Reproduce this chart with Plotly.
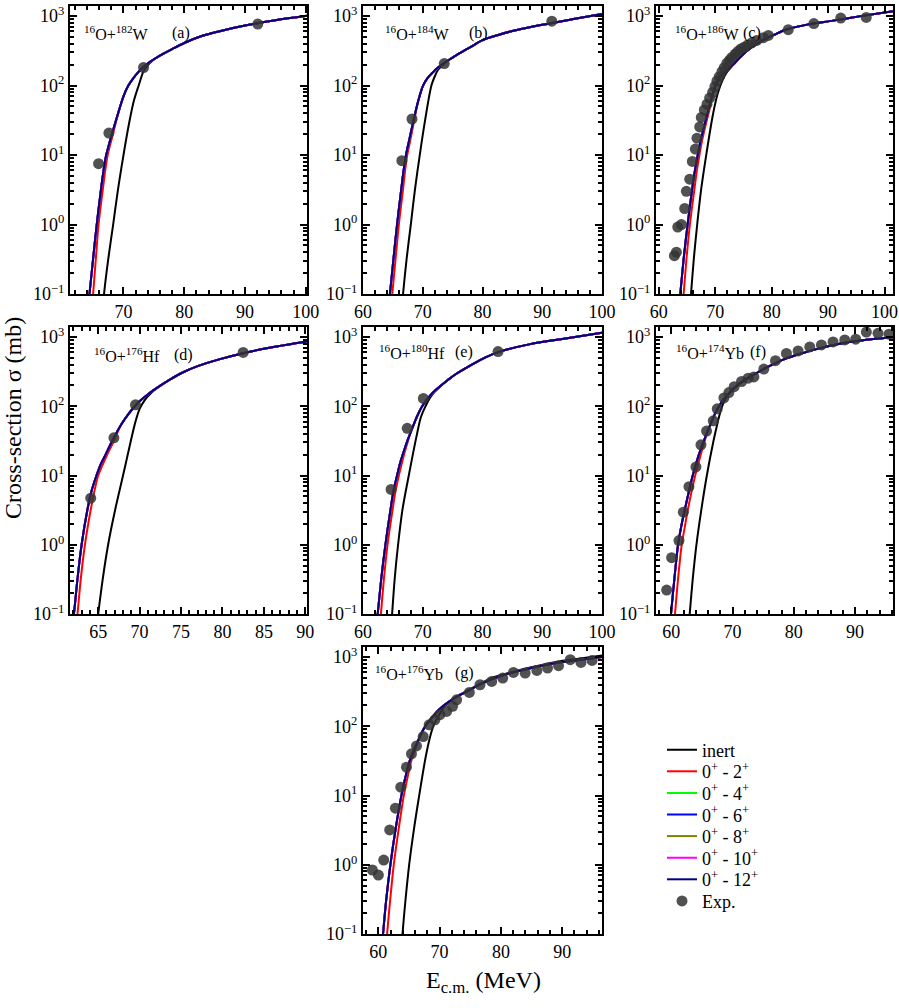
import plotly.graph_objects as go

W, H = 899, 1008

# ---- panel (a) 16O+182W ----
a_cc_e = [64.0, 64.4, 65.0, 65.6, 66.3, 66.7, 67.1, 67.6, 68.1, 69.3, 70.0, 70.8, 71.6, 72.4, 73.3, 74.2,
          75.2, 76.5, 78.0, 80.0, 83.0, 86.0, 90.0, 95.0, 100.3]
a_cc_s = [0.05, 0.1, 0.32, 1.0, 3.2, 5.8, 9.5, 14, 20, 45, 70, 100, 127, 155, 185, 215,
          245, 285, 335, 410, 520, 610, 730, 870, 1010]
a_2p_e = [64.7, 65.0, 65.45, 65.9, 66.6, 67.0, 67.4, 68.2, 69.3]
a_2p_s = [0.05, 0.1, 0.32, 1.0, 3.2, 6, 10, 19, 45]
a_in_e = [66.5, 66.8, 67.5, 68.3, 69.1, 70.0, 70.9, 71.7, 72.5, 73.3, 74.2, 75.2]
a_in_s = [0.05, 0.1, 0.32, 1.0, 3.2, 10, 28, 60, 100, 160, 205, 243]
a_exp_e = [65.9, 67.6, 73.3, 92.1]
a_exp_s = [7.5, 20.7, 182, 767]

# ---- panel (b) 16O+184W ----
b_cc_e = [64.1, 64.5, 65.1, 65.7, 66.4, 66.8, 67.2, 67.7, 68.2, 69.0, 69.5, 70.05, 70.8, 71.7, 72.5, 73.4,
          74.4, 75.5, 77.0, 78.5, 80.0, 82.5, 85.0, 90.0, 95.0, 100.0]
b_cc_s = [0.05, 0.1, 0.32, 1.0, 3.2, 6, 10, 16, 25, 50, 72, 100, 128, 155, 180, 205,
          235, 270, 320, 380, 450, 530, 610, 750, 900, 1070]
b_2p_e = [64.6, 64.9, 65.45, 66.0, 66.7, 67.05, 67.4, 67.9, 68.3, 69.0]
b_2p_s = [0.05, 0.1, 0.32, 1.0, 3.2, 6, 10, 16, 24, 48]
b_in_e = [66.4, 66.7, 67.3, 68.0, 68.7, 69.5, 70.4, 71.45, 72.0, 72.6, 73.4, 74.4]
b_in_s = [0.05, 0.1, 0.32, 1.0, 3.2, 10, 32, 100, 135, 170, 200, 233]
b_exp_e = [66.5, 68.2, 73.6, 91.6]
b_exp_s = [8.3, 33, 207, 845]

# ---- panel (c) 16O+186W ----
c_cc_e = [63.4, 63.8, 64.4, 65.1, 65.9, 66.4, 66.9, 67.4, 68.0, 69.0, 69.5, 70.0, 70.6, 71.3, 72.2, 73.2,
          74.3, 75.5, 77.0, 78.5, 80.5, 82.6, 86.5, 90.9, 95.5, 101.5]
c_cc_s = [0.05, 0.1, 0.32, 1.0, 3.2, 6, 10, 16, 25, 52, 72, 97, 122, 145, 172, 202,
          250, 310, 380, 450, 540, 640, 760, 860, 990, 1170]
c_2p_e = [64.1, 64.4, 64.9, 65.5, 66.3, 66.75, 67.2, 67.65, 68.2, 69.1]
c_2p_s = [0.05, 0.1, 0.32, 1.0, 3.2, 6, 10, 16, 25, 50]
c_in_e = [65.4, 65.7, 66.2, 66.8, 67.5, 68.4, 69.5, 70.3, 70.9, 71.6, 72.3, 73.2]
c_in_s = [0.05, 0.1, 0.32, 1.0, 3.2, 10, 35, 70, 100, 135, 165, 198]
c_exp_e = [62.76, 63.12, 63.35, 64.0, 64.59, 64.88, 65.47, 65.94, 66.47, 66.76, 67.24, 67.53, 68.06,
           68.53, 69.0, 69.53, 69.94, 70.29, 70.71, 71.18, 71.59, 72.06, 72.53, 72.94, 73.53, 74.0,
           74.53, 75.12, 75.76, 76.47, 77.35, 78.53, 79.41, 82.94, 87.47, 92.24, 96.76]
c_exp_s = [0.356, 0.40, 0.92, 1.0, 1.7, 3.0, 4.5, 8.1, 12.2, 17.5, 25.4, 34.8, 44.5,
           54, 66, 80, 97, 116, 134, 158, 181, 210, 232, 254, 284, 308,
           337, 356, 385, 412, 446, 488, 527, 638, 781, 935, 956]

# ---- panel (d) 16O+176Hf ----
d_cc_e = [61.7, 62.07, 62.5, 63.0, 63.7, 64.2, 64.8, 65.3, 65.8, 66.6, 67.8, 68.6, 69.3, 70.0, 70.8, 71.6,
          72.4, 73.6, 75.0, 77.0, 79.7, 82.9, 86.0, 90.2]
d_cc_s = [0.05, 0.1, 0.32, 1.0, 3.2, 6, 10, 14.5, 19, 30, 55, 76, 96, 118, 142, 168,
          195, 240, 300, 380, 480, 600, 710, 860]
d_2p_e = [62.2, 62.5, 62.9, 63.4, 64.1, 64.55, 65.0, 65.5, 66.0, 66.8]
d_2p_s = [0.05, 0.1, 0.32, 1.0, 3.2, 6, 10, 14, 19, 30]
d_in_e = [64.7, 65.0, 65.55, 66.2, 67.05, 68.0, 68.95, 69.5, 70.0, 70.6, 71.3, 72.4]
d_in_s = [0.05, 0.1, 0.32, 1.0, 3.2, 10, 32, 60, 92, 122, 152, 193]
d_exp_e = [64.1, 66.9, 69.5, 82.5]
d_exp_s = [4.7, 35, 105, 600]

# ---- panel (e) 16O+180Hf ----
e_cc_e = [62.1, 62.46, 63.05, 63.75, 64.6, 65.1, 65.7, 66.2, 66.8, 67.5, 68.2, 69.0, 69.9, 70.6, 71.3, 72.1,
          73.0, 74.2, 75.5, 78.0, 80.5, 83.05, 88.0, 93.1, 100.0]
e_cc_s = [0.05, 0.1, 0.32, 1.0, 3.2, 6, 10, 15, 22, 33, 47, 70, 100, 122, 145, 170,
          198, 240, 290, 390, 510, 620, 790, 930, 1150]
e_2p_e = [62.7, 63.0, 63.5, 64.1, 64.95, 65.45, 66.0, 66.5, 67.0, 67.6]
e_2p_s = [0.05, 0.1, 0.32, 1.0, 3.2, 6, 10, 15, 22, 33]
e_in_e = [64.6, 64.87, 65.3, 65.87, 66.6, 67.66, 68.9, 69.7, 70.46, 71.1, 71.8, 72.6, 73.4]
e_in_s = [0.05, 0.1, 0.32, 1.0, 3.2, 10, 35, 70, 100, 128, 155, 180, 210]
e_exp_e = [64.7, 67.4, 70.1, 82.6]
e_exp_s = [6.3, 48, 130, 617]

# ---- panel (f) 16O+174Yb ----
f_cc_e = [59.7, 59.95, 60.5, 61.1, 61.6, 62.2, 63.5, 64.5, 65.5, 66.5, 67.1, 67.7, 68.3, 69.0, 70.3, 72.0,
          74.0, 76.0, 78.5, 81.0, 84.0, 87.5, 91.0, 96.2]
f_cc_s = [0.05, 0.1, 0.32, 1.0, 1.8, 3.2, 10, 20, 35, 58, 77, 97, 118, 140, 185, 240,
          305, 380, 480, 570, 680, 800, 890, 990]
f_2p_e = [60.3, 60.6, 61.1, 61.7, 62.2, 62.7, 63.9, 64.8, 65.6]
f_2p_s = [0.05, 0.1, 0.32, 1.0, 1.8, 3.2, 10, 20, 35]
f_in_e = [62.7, 63.0, 63.5, 64.1, 64.9, 65.8, 66.9, 67.6, 68.2, 68.8, 69.5, 70.3]
f_in_s = [0.05, 0.1, 0.32, 1.0, 3.2, 10, 32, 60, 95, 125, 155, 183]
f_exp_e = [59.24, 60.05, 61.25, 61.96, 62.88, 64.02, 64.84, 65.76, 66.85, 67.5, 68.59, 69.4, 70.27, 71.47,
           72.55, 73.48, 75.11, 77.01, 78.8, 80.71, 82.61, 84.51, 86.41, 88.32, 90.11, 91.85, 93.75, 95.54]
f_exp_s = [0.222, 0.65, 1.15, 2.96, 6.9, 13.3, 27.8, 43.9, 61.7, 91.8, 132, 158, 192, 228,
           255, 265, 345, 455, 580, 630, 720, 770, 850, 910, 930, 1180, 1130, 1100]

# ---- panel (g) 16O+176Yb ----
g_cc_e = [60.5, 60.77, 61.3, 61.97, 62.8, 63.77, 64.4, 65.14, 66.3, 67.0, 67.6, 68.3, 69.0, 69.8, 70.6, 72.5,
          74.4, 76.5, 78.8, 82.0, 85.3, 89.0, 93.0, 96.5]
g_cc_s = [0.05, 0.1, 0.32, 1.0, 3.2, 10, 18, 32, 57, 78, 98, 120, 142, 170, 198, 258,
          316, 400, 490, 600, 705, 820, 910, 1000]
g_2p_e = [61.2, 61.43, 61.95, 62.52, 63.3, 64.16, 64.75, 65.4, 66.4]
g_2p_s = [0.05, 0.1, 0.32, 1.0, 3.2, 10, 18, 32, 57]
g_in_e = [63.7, 63.94, 64.45, 65.03, 65.8, 66.67, 67.7, 68.4, 68.96, 69.5, 70.0, 70.6, 71.2, 72.5, 74.4, 76.5,
          78.8, 82.0, 85.3, 89.0, 93.0, 96.5]
g_in_s = [0.05, 0.1, 0.32, 1.0, 3.2, 10, 35, 68, 100, 125, 150, 185, 210, 262, 322, 405,
          510, 615, 725, 850, 950, 1050]
g_exp_e = [59.03, 60.01, 60.88, 61.86, 62.79, 63.66, 64.59, 65.41, 66.23, 67.32, 68.3, 69.23, 70.05, 71.14,
           72.12, 72.78, 74.85, 76.59, 78.5, 80.3, 82.05, 83.96, 85.87, 87.61, 89.41, 91.32, 93.07, 94.87]
g_exp_s = [0.84, 0.71, 1.17, 3.19, 6.56, 13.2, 25.7, 40, 52, 71, 105, 124, 147, 164,
           194, 241, 308, 398, 445, 497, 600, 587, 641, 694, 750, 915, 837, 895]

labels = ["(a)", "(b)", "(c)", "(d)", "(e)", "(f)", "(g)"]
systems = ["<sup>16</sup>O+<sup>182</sup>W", "<sup>16</sup>O+<sup>184</sup>W", "<sup>16</sup>O+<sup>186</sup>W",
           "<sup>16</sup>O+<sup>176</sup>Hf", "<sup>16</sup>O+<sup>180</sup>Hf", "<sup>16</sup>O+<sup>174</sup>Yb",
           "<sup>16</sup>O+<sup>176</sup>Yb"]
xranges = [[61.2, 100.2], [60, 100], [59.5, 101.5], [61.6, 90.2], [60, 100], [57.5, 96.2], [57.5, 96.5]]

series_names = ["inert", "0<sup>+</sup> - 2<sup>+</sup>", "0<sup>+</sup> - 4<sup>+</sup>",
                "0<sup>+</sup> - 6<sup>+</sup>", "0<sup>+</sup> - 8<sup>+</sup>",
                "0<sup>+</sup> - 10<sup>+</sup>", "0<sup>+</sup> - 12<sup>+</sup>", "Exp."]
series_colors = ["black", "#ff0000", "#00ff00", "#0000ff", "#808000", "#ff00ff", "#000080"]

panels = [
    (a_cc_e, a_cc_s, a_2p_e, a_2p_s, a_in_e, a_in_s, a_exp_e, a_exp_s),
    (b_cc_e, b_cc_s, b_2p_e, b_2p_s, b_in_e, b_in_s, b_exp_e, b_exp_s),
    (c_cc_e, c_cc_s, c_2p_e, c_2p_s, c_in_e, c_in_s, c_exp_e, c_exp_s),
    (d_cc_e, d_cc_s, d_2p_e, d_2p_s, d_in_e, d_in_s, d_exp_e, d_exp_s),
    (e_cc_e, e_cc_s, e_2p_e, e_2p_s, e_in_e, e_in_s, e_exp_e, e_exp_s),
    (f_cc_e, f_cc_s, f_2p_e, f_2p_s, f_in_e, f_in_s, f_exp_e, f_exp_s),
    (g_cc_e, g_cc_s, g_2p_e, g_2p_s, g_in_e, g_in_s, g_exp_e, g_exp_s),
]

# panel boxes in pixels: left, right, top, bottom
boxes = [(70, 307, 6, 294), (363, 602, 6, 294), (656, 893, 6, 294),
         (70, 307, 327, 614), (363, 602, 327, 614), (656, 893, 327, 614),
         (363, 602, 647, 934)]

FONT = "Liberation Serif, Times New Roman, serif"


def join_tail(e_low, s_low, e_cc, s_cc):
    # low-energy branch read separately, then it runs on the coupled-channel curve
    e = list(e_low) + [x for x in e_cc if x > e_low[-1] + 0.3]
    s = list(s_low) + [y for x, y in zip(e_cc, s_cc) if x > e_low[-1] + 0.3]
    return e, s


def legend_id(k):
    return "legend" if k == 0 else f"legend{k + 1}"


fig = go.Figure()
minor_y = [m * 10.0 ** k for k in range(-1, 3) for m in range(2, 10)] + [2000]

for i, (cce, ccs, tpe, tps, ine, ins, exe, exs) in enumerate(panels):
    xa = "x" if i == 0 else f"x{i + 1}"
    ya = "y" if i == 0 else f"y{i + 1}"
    show = i == 0
    curves = [join_tail(ine, ins, cce, ccs), join_tail(tpe, tps, cce, ccs)] + [(cce, ccs)] * 5
    for k, (ex, sy) in enumerate(curves):
        fig.add_trace(go.Scatter(
            x=ex, y=sy, mode="lines", name=series_names[k], legend=legend_id(k),
            line=dict(color=series_colors[k], width=2, shape="spline", smoothing=0.9),
            xaxis=xa, yaxis=ya, showlegend=show))
    fig.add_trace(go.Scatter(
        x=exe, y=exs, mode="markers", name=series_names[7], legend=legend_id(7),
        marker=dict(color="rgba(50,50,50,0.85)", size=11, line=dict(width=0)),
        xaxis=xa, yaxis=ya, showlegend=show))

    l, r, t, b = boxes[i]
    xkey = "xaxis" if i == 0 else f"xaxis{i + 1}"
    ykey = "yaxis" if i == 0 else f"yaxis{i + 1}"
    big = 5 if i == 3 else 10
    small = 1 if i == 3 else 2
    fig.layout[xkey] = dict(
        domain=[l / W, r / W], anchor=ya, range=xranges[i], automargin=False,
        tickmode="linear", tick0=0, dtick=big,
        ticks="inside", ticklen=7, tickwidth=1.5, tickcolor="black",
        minor=dict(ticks="inside", dtick=small, tick0=0, ticklen=4, tickwidth=1.5, tickcolor="black"),
        showline=True, linewidth=2, linecolor="black", mirror="ticks",
        showgrid=False, zeroline=False,
        tickfont=dict(family=FONT, size=18, color="black"))
    fig.layout[ykey] = dict(
        domain=[1 - b / H, 1 - t / H], anchor=xa, type="log", range=[-1, 3.145], automargin=False,
        tickmode="array", tickvals=[0.1, 1, 10, 100, 1000],
        ticktext=["10<sup>\u22121</sup>", "10<sup>0</sup>", "10<sup>1</sup>", "10<sup>2</sup>", "10<sup>3</sup>"],
        ticks="inside", ticklen=7, tickwidth=1.5, tickcolor="black",
        minor=dict(ticks="inside", tickmode="array", tickvals=minor_y, ticklen=4, tickwidth=1.5,
                   tickcolor="black"),
        showline=True, linewidth=2, linecolor="black", mirror="ticks",
        showgrid=False, zeroline=False,
        tickfont=dict(family=FONT, size=18, color="black"))

# panel labels
lab_pos = [(82, 170, 33), (383, 467, 33), (673, 741, 33),
           (92, 172, 355), (377, 453, 352), (674, 748, 352), (373, 453, 673)]
for i, (xs, xl, yy) in enumerate(lab_pos):
    fig.add_annotation(text=systems[i], x=xs / W, y=1 - yy / H, xref="paper", yref="paper",
                       xanchor="left", yanchor="middle", showarrow=False,
                       font=dict(family=FONT, size=16, color="black"))
    fig.add_annotation(text=labels[i], x=xl / W, y=1 - yy / H, xref="paper", yref="paper",
                       xanchor="left", yanchor="middle", showarrow=False,
                       font=dict(family=FONT, size=16, color="black"))

fig.add_annotation(text="Cross-section \u03c3 (mb)", x=13 / W, y=1 - 418 / H, xref="paper", yref="paper",
                   textangle=-90, showarrow=False, xanchor="center", yanchor="middle",
                   font=dict(family=FONT, size=24, color="black"))
fig.add_annotation(text="E<sub>c.m.</sub> (MeV)", x=483 / W, y=1 - 982 / H, xref="paper", yref="paper",
                   showarrow=False, xanchor="center", yanchor="middle",
                   font=dict(family=FONT, size=24, color="black"))

# one small legend per entry so the rows sit at the reference spacing
legends = {}
for k in range(8):
    legends[legend_id(k)] = dict(
        x=662 / W, y=1 - (750 + 21.6 * k) / H, xanchor="left", yanchor="middle",
        bgcolor="rgba(0,0,0,0)", borderwidth=0,
        font=dict(family=FONT, size=18, color="black"))

fig.update_layout(
    width=W, height=H,
    margin=dict(l=0, r=0, t=0, b=0, autoexpand=False),
    paper_bgcolor="white", plot_bgcolor="white",
    showlegend=True,
    **legends,
)

# the page body has a default 8px margin; drop it so the figure sits at the window corner
fig.write_html("out.html", config={"displayModeBar": False},
               post_script="document.body.style.margin = '0';")
